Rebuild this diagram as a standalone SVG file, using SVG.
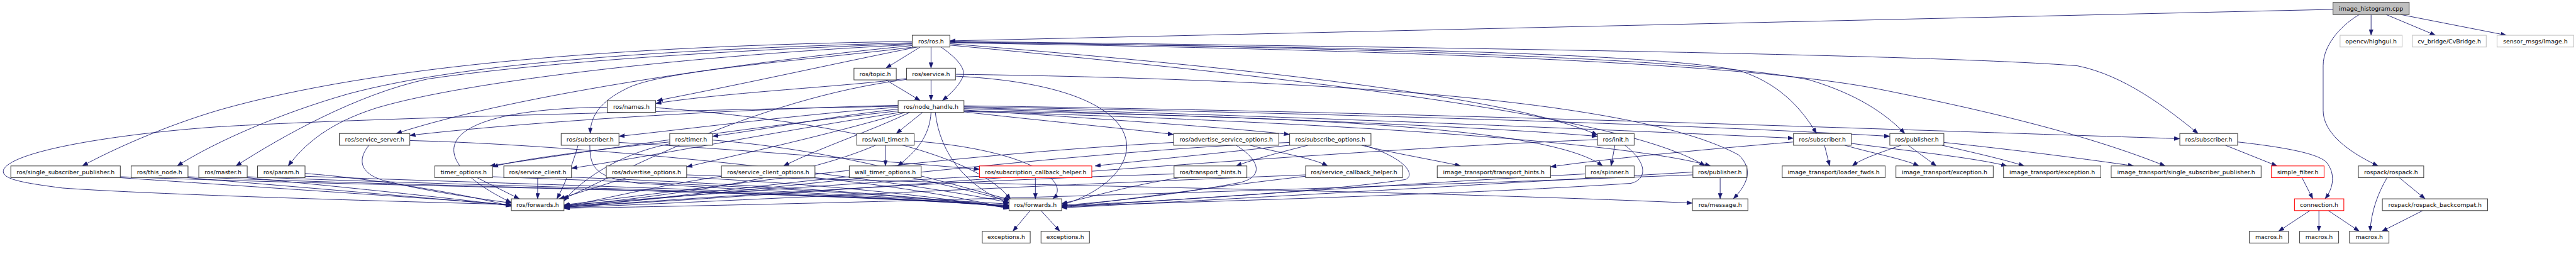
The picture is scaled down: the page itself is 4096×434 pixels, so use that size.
<svg xmlns="http://www.w3.org/2000/svg" width="4096" height="434" viewBox="0 0 4096 434">
<style>
.e path{fill:none;stroke:#191970;stroke-width:1.2;marker-end:url(#a)}
.n rect{fill:#fff;stroke:#404040;stroke-width:1.4}
.n text{font-family:"DejaVu Sans",sans-serif;font-size:12.65px;text-anchor:middle;fill:#000}
.red rect{stroke:#ff0000}
.ext rect{stroke:#bfbfbf}
.root rect{fill:#bfbfbf}
</style>
<defs>
<marker id="a" markerUnits="userSpaceOnUse" markerWidth="12" markerHeight="9" refX="12" refY="4.5" orient="auto" viewBox="0 0 12 9">
<path d="M0,0 L12,4.5 L0,9 z" fill="#191970" stroke="#191970" stroke-width="0.5"/>
</marker>
</defs>
<rect width="4096" height="434" fill="#fff"/>
<g transform="scale(0.74731)">
<g id="edges" class="e">
<path d="M1958,100 L1885,145"/>
<path d="M1981,100 L1981,145"/>
<path d="M2002,100 C2040,126 2058,150 2047,167 C2038,185 2022,200 2005,214"/>
<path d="M1941,88 C1300,98 800,140 470,233 C350,268 240,318 175,353"/>
<path d="M1941,91 C1450,104 1000,130 740,200 C600,240 460,300 377,353"/>
<path d="M1941,93 C1450,110 1100,140 910,168 C760,200 600,290 502,353"/>
<path d="M1941,95 C1500,116 1000,170 800,230 C700,262 650,305 613,353"/>
<path d="M1941,97 C1600,130 1100,200 843,284"/>
<path d="M1946,100 C1700,130 1400,150 1330,190 C1280,215 1256,245 1256,284"/>
<path d="M1952,100 C1800,130 1600,175 1398,214"/>
<path d="M2021,93 C2600,140 3200,200 3399,287"/>
<path d="M2021,96 C2700,160 3450,240 3628,353"/>
<path d="M2021,90 C2800,100 3500,110 3700,150 C3780,175 3830,225 3865,284"/>
<path d="M2021,89 C2800,100 3600,120 3850,170 C3950,200 4010,240 4053,284"/>
<path d="M2021,88 C3000,100 4100,115 4420,140 C4520,160 4610,230 4677,284"/>
<path d="M2021,91 C2900,105 3700,130 4000,190 C4250,240 4450,290 4607,353"/>
<path d="M1911,224 C1500,234 1100,262 872,288"/>
<path d="M1911,228 C1700,244 1500,270 1317,290"/>
<path d="M1911,232 C1750,250 1650,272 1516,290"/>
<path d="M1963,239 L1907,284"/>
<path d="M2051,238 C2200,255 2400,274 2497,286"/>
<path d="M2051,234 C2300,250 2600,270 2744,286"/>
<path d="M2051,231 C2500,245 3100,265 3399,290"/>
<path d="M2051,229 C2700,245 3400,275 3816,294"/>
<path d="M2051,227 C2800,240 3600,265 4021,290"/>
<path d="M2051,225 C3000,238 4000,275 4638,295"/>
<path d="M1911,236 C1600,270 1250,322 1042,353"/>
<path d="M1916,239 C1650,280 1400,330 1216,358"/>
<path d="M1926,239 C1750,290 1600,322 1461,355"/>
<path d="M1936,239 C1850,280 1750,312 1667,353"/>
<path d="M1981,239 C1978,290 1950,322 1910,353"/>
<path d="M2051,236 C2800,248 3300,272 3410,353"/>
<path d="M2051,237 C2800,258 3450,300 3640,353"/>
<path d="M1911,226 C1300,238 700,255 460,270 C250,285 30,320 8,360 C0,380 40,388 133,400 C300,412 700,425 1088,435"/>
<path d="M1990,239 C2000,330 2060,400 2147,432"/>
<path d="M1885,170 L1958,214"/>
<path d="M1981,170 L1981,214"/>
<path d="M1929,167 C1800,184 1550,196 1395,220"/>
<path d="M1929,169 C1600,210 1300,380 1198,423"/>
<path d="M2033,162 C2500,185 2450,380 2259,436"/>
<path d="M2033,158 C2900,170 3500,220 3700,330 C3730,360 3720,390 3688,423"/>
<path d="M1292,228 C900,232 900,340 1088,431"/>
<path d="M1395,229 C1800,260 2080,330 2150,424"/>
<path d="M785,309 C760,340 765,370 820,385 C900,405 1000,420 1088,432"/>
<path d="M872,299 C1300,310 1900,380 2147,431"/>
<path d="M1255,309 C1255,360 1270,378 1360,390 C1700,410 2000,425 2147,434"/>
<path d="M1230,309 C1215,360 1200,395 1185,423"/>
<path d="M1317,303 C1600,320 1900,345 2084,360"/>
<path d="M1425,302 C1250,320 1100,340 1048,355"/>
<path d="M1425,306 C1300,330 1220,400 1200,428"/>
<path d="M1516,298 C1800,320 2050,400 2150,425"/>
<path d="M1884,309 L1884,353"/>
<path d="M1863,309 C1700,380 1400,420 1200,438"/>
<path d="M1945,300 C2200,320 2280,390 2240,423"/>
<path d="M2660,309 C2720,325 2790,335 2825,353"/>
<path d="M2630,309 C2680,340 2690,375 2640,388 C2500,415 2350,430 2259,437"/>
<path d="M2497,303 C2000,330 1500,400 1200,436"/>
<path d="M2744,309 C2600,325 2450,340 2330,353"/>
<path d="M2783,309 C2720,325 2670,338 2630,353"/>
<path d="M2897,309 C2960,325 3050,340 3108,353"/>
<path d="M2903,309 C3000,340 3010,375 2990,382 C2800,410 2450,428 2259,438"/>
<path d="M2744,303 C2300,320 1600,410 1200,439"/>
<path d="M3436,309 L3428,353"/>
<path d="M3457,309 C3500,340 3510,380 3470,390 C3100,415 2500,430 2259,439"/>
<path d="M3399,297 C2800,320 1800,410 1200,440"/>
<path d="M3816,302 C3600,320 3400,340 3299,355"/>
<path d="M3882,309 L3893,353"/>
<path d="M3925,309 C3980,325 4050,338 4083,353"/>
<path d="M3939,305 C4050,320 4200,335 4270,353"/>
<path d="M1461,372 C2000,392 3000,405 3601,432"/>
<path d="M4045,309 C4000,325 3960,338 3941,353"/>
<path d="M4060,309 L4120,353"/>
<path d="M4132,309 C4200,325 4260,338 4307,353"/>
<path d="M4136,303 C4300,320 4450,340 4540,353"/>
<path d="M4735,309 L4845,353"/>
<path d="M4761,302 C4850,312 4930,325 4950,345 C4970,370 4965,400 4947,423"/>
<path d="M4898,378 L4921,423"/>
<path d="M4915,448 L4848,492"/>
<path d="M4934,448 L4934,492"/>
<path d="M4954,448 L5020,492"/>
<path d="M5079,378 C5060,410 5045,450 5043,492"/>
<path d="M5105,378 L5160,423"/>
<path d="M5155,448 L5068,492"/>
<path d="M2192,448 L2155,492"/>
<path d="M2215,448 L2255,492"/>
<path d="M2203,378 L2203,423"/>
<path d="M2084,375 C1800,390 1400,420 1200,437"/>
<path d="M2510,378 C2400,395 2320,420 2259,433"/>
<path d="M2498,370 C2000,385 1500,420 1200,441"/>
<path d="M2778,375 C2600,395 2400,425 2259,440"/>
<path d="M2778,372 C2200,395 1600,425 1200,442"/>
<path d="M3373,370 C3000,390 2500,425 2259,441"/>
<path d="M3660,378 L3660,423"/>
<path d="M3602,366 C3200,390 2600,425 2259,442"/>
<path d="M3602,372 C3000,395 2000,430 1200,443"/>
<path d="M256,378 C500,395 900,420 1088,436"/>
<path d="M256,376 C900,400 1700,405 2147,437"/>
<path d="M400,378 C600,395 900,420 1088,437"/>
<path d="M400,376 C900,398 1650,405 2147,438"/>
<path d="M526,378 C700,395 950,420 1088,438"/>
<path d="M526,376 C1000,396 1700,406 2147,439"/>
<path d="M649,369 C800,380 1000,415 1088,439"/>
<path d="M649,375 C1100,392 1800,408 2147,440"/>
<path d="M1015,378 L1105,423"/>
<path d="M1048,376 C1500,392 1900,410 2147,441"/>
<path d="M1144,378 L1144,423"/>
<path d="M1216,377 C1600,392 1950,415 2147,442"/>
<path d="M1333,378 L1190,423"/>
<path d="M1461,377 C1800,395 2000,420 2147,443"/>
<path d="M1535,375 C1400,395 1300,420 1200,440"/>
<path d="M1734,378 C1900,395 2050,420 2147,444"/>
<path d="M1807,376 C1600,395 1400,425 1200,441"/>
<path d="M1940,378 C2020,395 2080,410 2147,428"/>
<path d="M4964,20 L2021,87"/>
<path d="M5045,31 L5045,75"/>
<path d="M5077,31 L5182,75"/>
<path d="M5108,31 L5333,75"/>
<path d="M5020,31 C4990,48 4943,90 4943,140 L4943,235 C4943,280 4990,320 5060,353"/>
</g>
<g id="n_cpp" class="n root"><rect x="4964" y="5" width="162" height="26"/><text x="5045" y="23">image_histogram.cpp</text></g>
<g id="n_ros" class="n"><rect x="1941" y="75" width="80" height="25"/><text x="1981" y="92">ros/ros.h</text></g>
<g id="n_highgui" class="n ext"><rect x="4979" y="75" width="132" height="25"/><text x="5045" y="92">opencv/highgui.h</text></g>
<g id="n_cvbridge" class="n ext"><rect x="5133" y="75" width="157" height="25"/><text x="5211.5" y="92">cv_bridge/CvBridge.h</text></g>
<g id="n_image" class="n ext"><rect x="5313" y="75" width="163" height="25"/><text x="5394.5" y="92">sensor_msgs/Image.h</text></g>
<g id="n_topic" class="n"><rect x="1817" y="145" width="90" height="25"/><text x="1862" y="162">ros/topic.h</text></g>
<g id="n_service" class="n"><rect x="1929" y="145" width="104" height="25"/><text x="1981" y="162">ros/service.h</text></g>
<g id="n_names" class="n"><rect x="1292" y="214" width="103" height="25"/><text x="1343.5" y="231">ros/names.h</text></g>
<g id="n_nh" class="n"><rect x="1911" y="214" width="140" height="25"/><text x="1981" y="231">ros/node_handle.h</text></g>
<g id="n_srvserver" class="n"><rect x="722" y="284" width="150" height="25"/><text x="797" y="301">ros/service_server.h</text></g>
<g id="n_sub1" class="n"><rect x="1194" y="284" width="123" height="25"/><text x="1255.5" y="301">ros/subscriber.h</text></g>
<g id="n_timer" class="n"><rect x="1425" y="284" width="91" height="25"/><text x="1470.5" y="301">ros/timer.h</text></g>
<g id="n_walltimer" class="n"><rect x="1823" y="284" width="122" height="25"/><text x="1884" y="301">ros/wall_timer.h</text></g>
<g id="n_advsrvopt" class="n"><rect x="2497" y="284" width="224" height="25"/><text x="2609" y="301">ros/advertise_service_options.h</text></g>
<g id="n_subopt" class="n"><rect x="2744" y="284" width="173" height="25"/><text x="2830.5" y="301">ros/subscribe_options.h</text></g>
<g id="n_init" class="n"><rect x="3399" y="284" width="78" height="25"/><text x="3438" y="301">ros/init.h</text></g>
<g id="n_sub2" class="n"><rect x="3816" y="284" width="123" height="25"/><text x="3877.5" y="301">ros/subscriber.h</text></g>
<g id="n_pub2" class="n"><rect x="4021" y="284" width="115" height="25"/><text x="4078.5" y="301">ros/publisher.h</text></g>
<g id="n_sub3" class="n"><rect x="4638" y="284" width="123" height="25"/><text x="4699.5" y="301">ros/subscriber.h</text></g>
<g id="n_ssp" class="n"><rect x="23" y="353" width="233" height="25"/><text x="139.5" y="370">ros/single_subscriber_publisher.h</text></g>
<g id="n_thisnode" class="n"><rect x="279" y="353" width="121" height="25"/><text x="339.5" y="370">ros/this_node.h</text></g>
<g id="n_master" class="n"><rect x="423" y="353" width="103" height="25"/><text x="474.5" y="370">ros/master.h</text></g>
<g id="n_param" class="n"><rect x="548" y="353" width="101" height="25"/><text x="598.5" y="370">ros/param.h</text></g>
<g id="n_timeropt" class="n"><rect x="925" y="353" width="123" height="25"/><text x="986.5" y="370">timer_options.h</text></g>
<g id="n_srvclient" class="n"><rect x="1072" y="353" width="144" height="25"/><text x="1144" y="370">ros/service_client.h</text></g>
<g id="n_advopt" class="n"><rect x="1290" y="353" width="171" height="25"/><text x="1375.5" y="370">ros/advertise_options.h</text></g>
<g id="n_srvclientopt" class="n"><rect x="1535" y="353" width="199" height="25"/><text x="1634.5" y="370">ros/service_client_options.h</text></g>
<g id="n_walltimeropt" class="n"><rect x="1807" y="353" width="153" height="25"/><text x="1883.5" y="370">wall_timer_options.h</text></g>
<g id="n_subcb" class="n red"><rect x="2084" y="353" width="239" height="25"/><text x="2203.5" y="370">ros/subscription_callback_helper.h</text></g>
<g id="n_th1" class="n"><rect x="2498" y="353" width="155" height="25"/><text x="2575.5" y="370">ros/transport_hints.h</text></g>
<g id="n_srvcb" class="n"><rect x="2778" y="353" width="206" height="25"/><text x="2881" y="370">ros/service_callback_helper.h</text></g>
<g id="n_th2" class="n"><rect x="3058" y="353" width="241" height="25"/><text x="3178.5" y="370">image_transport/transport_hints.h</text></g>
<g id="n_spinner" class="n"><rect x="3373" y="353" width="104" height="25"/><text x="3425" y="370">ros/spinner.h</text></g>
<g id="n_pub1" class="n"><rect x="3602" y="353" width="115" height="25"/><text x="3659.5" y="370">ros/publisher.h</text></g>
<g id="n_loader" class="n"><rect x="3792" y="353" width="219" height="25"/><text x="3901.5" y="370">image_transport/loader_fwds.h</text></g>
<g id="n_exc1" class="n"><rect x="4034" y="353" width="207" height="25"/><text x="4137.5" y="370">image_transport/exception.h</text></g>
<g id="n_exc2" class="n"><rect x="4263" y="353" width="207" height="25"/><text x="4366.5" y="370">image_transport/exception.h</text></g>
<g id="n_itssp" class="n"><rect x="4492" y="353" width="319" height="25"/><text x="4651.5" y="370">image_transport/single_subscriber_publisher.h</text></g>
<g id="n_simplefilter" class="n red"><rect x="4833" y="353" width="112" height="25"/><text x="4889" y="370">simple_filter.h</text></g>
<g id="n_rospack" class="n"><rect x="5018" y="353" width="139" height="25"/><text x="5087.5" y="370">rospack/rospack.h</text></g>
<g id="n_fwd1" class="n"><rect x="1088" y="423" width="112" height="25"/><text x="1144" y="440">ros/forwards.h</text></g>
<g id="n_fwd2" class="n"><rect x="2147" y="423" width="112" height="25"/><text x="2203" y="440">ros/forwards.h</text></g>
<g id="n_message" class="n"><rect x="3601" y="423" width="118" height="25"/><text x="3660" y="440">ros/message.h</text></g>
<g id="n_connection" class="n red"><rect x="4882" y="423" width="105" height="25"/><text x="4934.5" y="440">connection.h</text></g>
<g id="n_backcompat" class="n"><rect x="5069" y="423" width="224" height="25"/><text x="5181" y="440">rospack/rospack_backcompat.h</text></g>
<g id="n_excs1" class="n"><rect x="2090" y="492" width="102" height="25"/><text x="2141" y="509">exceptions.h</text></g>
<g id="n_excs2" class="n"><rect x="2215" y="492" width="103" height="25"/><text x="2266.5" y="509">exceptions.h</text></g>
<g id="n_macros1" class="n"><rect x="4786" y="492" width="83" height="25"/><text x="4827.5" y="509">macros.h</text></g>
<g id="n_macros2" class="n"><rect x="4893" y="492" width="83" height="25"/><text x="4934.5" y="509">macros.h</text></g>
<g id="n_macros3" class="n"><rect x="4999" y="492" width="84" height="25"/><text x="5041" y="509">macros.h</text></g>
</g>
</svg>
